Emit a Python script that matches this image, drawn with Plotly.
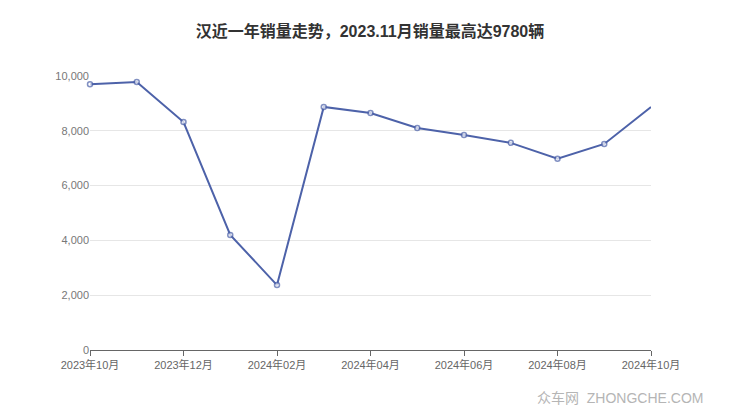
import plotly.graph_objects as go

months = ["2023年10月", "2023年11月", "2023年12月", "2024年01月", "2024年02月", "2024年03月",
          "2024年04月", "2024年05月", "2024年06月", "2024年07月", "2024年08月", "2024年09月",
          "2024年10月"]
sales = [9700, 9780, 8320, 4200, 2370, 8870, 8650, 8100, 7850, 7560, 6980, 7520, 8870]
y_ticks = [0, 2000, 4000, 6000, 8000, 10000]

line_color = "#4d62a9"
marker_sizes = [5] * (len(months) - 1) + [0]

fig = go.Figure()
fig.add_trace(go.Scatter(
    x=months, y=sales, mode="lines+markers",
    line=dict(color=line_color, width=2),
    marker=dict(symbol="circle", size=marker_sizes, color="white",
                line=dict(color=line_color, width=1.5)),
    cliponaxis=False, showlegend=False,
))

fig.update_layout(
    width=740, height=417,
    margin=dict(l=90, r=89, t=76, b=67),
    paper_bgcolor="white", plot_bgcolor="white",
    font=dict(family="Liberation Sans, Arial, Noto Sans CJK SC", color="#666", size=11),
    title=dict(text="<b>汉近一年销量走势，2023.11月销量最高达9780辆</b>",
               x=0.5, xanchor="center", y=0.925, yanchor="middle",
               font=dict(size=16, color="#333", family="Liberation Sans, Noto Sans CJK SC")),
    xaxis=dict(
        type="category", range=[0, len(months) - 1],
        tickvals=months[::2], ticktext=months[::2],
        showgrid=False, showline=True, linecolor="#666", linewidth=1,
        ticks="outside", ticklen=5, tickcolor="#666",
        tickfont=dict(size=11, color="#666"),
    ),
    yaxis=dict(
        range=[0, 10000], tickvals=y_ticks, tickformat=",",
        showgrid=True, gridcolor="#e6e6e6", gridwidth=1,
        zeroline=False, showline=False, ticks="", ticklen=0,
        tickfont=dict(size=11, color="#777"),
    ),
    annotations=[dict(
        text="众车网  ZHONGCHE.COM", xref="paper", yref="paper",
        x=1.096, y=-0.175, xanchor="right", yanchor="middle", showarrow=False,
        font=dict(size=14, color="#b5b5b5", family="Liberation Sans, Noto Sans CJK SC"),
    )],
)

fig.write_html("out.html", config={"displayModeBar": False},
               post_script="document.body.style.margin='0';")
